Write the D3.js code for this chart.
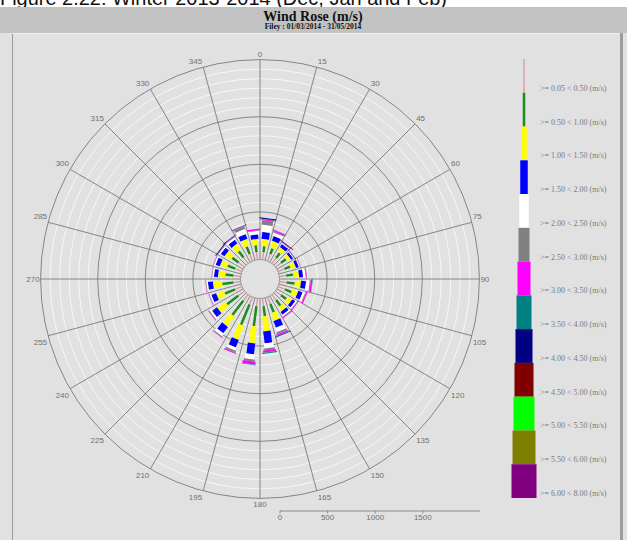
<!DOCTYPE html>
<html>
<head>
<meta charset="utf-8">
<script src="https://cdn.jsdelivr.net/npm/d3@7"></script>
<style>
  body { margin: 0; background: #ffffff; }
  svg { display: block; }
</style>
</head>
<body>
<svg id="chart" width="627" height="540"></svg>
<script>
// ---- data -----------------------------------------------------------------
// Direction bins (sector centres, degrees from north, 15-degree sectors)
const directions = [7.5, 22.5, 37.5, 52.5, 67.5, 82.5, 97.5, 112.5, 127.5, 142.5, 157.5, 172.5,
                    187.5, 202.5, 217.5, 232.5, 247.5, 262.5, 277.5, 292.5, 307.5, 322.5, 337.5, 352.5];

// Counts per speed class, one value per direction bin
const s005_050 = [79, 79, 74, 74, 74, 74, 79, 79, 74, 74, 79, 84, 84, 84, 84, 84, 79, 79, 79, 79, 79, 79, 79, 79];
const s050_100 = [63, 63, 63, 63, 63, 74, 84, 74, 68, 74, 95, 105, 210, 231, 189, 147, 116, 116, 84, 84, 84, 84, 84, 74];
const s100_150 = [74, 74, 53, 42, 53, 58, 63, 63, 53, 53, 84, 158, 179, 158, 126, 105, 84, 95, 74, 74, 74, 74, 74, 63];
const s150_200 = [74, 53, 37, 26, 32, 42, 53, 47, 37, 37, 74, 126, 116, 84, 84, 63, 53, 53, 42, 47, 47, 47, 53, 47];
const s200_250 = [74, 32, 11, 8, 11, 26, 37, 26, 16, 16, 47, 53, 53, 32, 32, 21, 16, 16, 16, 16, 16, 21, 53, 37];
const s250_300 = [47, 11, 5, 3, 5, 8, 11, 8, 5, 8, 21, 21, 21, 21, 11, 8, 5, 5, 5, 5, 5, 8, 26, 5];
const s300_350 = [11, 16, 5, 3, 3, 5, 16, 13, 8, 8, 16, 21, 32, 11, 5, 4, 3, 3, 3, 3, 5, 5, 5, 16];
const s350_400 = [5, 3, 0, 0, 0, 0, 3, 0, 0, 0, 5, 11, 5, 0, 0, 0, 0, 0, 0, 0, 0, 0, 3, 0];
const s400_450 = [11, 0, 5, 3, 0, 0, 0, 0, 0, 0, 5, 0, 0, 0, 0, 0, 0, 0, 0, 0, 8, 5, 5, 0];
const s450_500 = [0, 0, 0, 0, 0, 0, 0, 0, 0, 0, 0, 0, 0, 0, 0, 0, 0, 0, 0, 0, 0, 0, 0, 0];
const s500_550 = [0, 0, 0, 0, 0, 0, 0, 0, 0, 0, 0, 0, 0, 0, 0, 0, 0, 0, 0, 0, 0, 0, 0, 0];
const s550_600 = [0, 0, 0, 0, 0, 0, 0, 0, 0, 0, 0, 0, 0, 0, 0, 0, 0, 0, 0, 0, 0, 0, 0, 0];
const s600_800 = [0, 0, 0, 0, 0, 0, 0, 0, 0, 0, 0, 0, 0, 0, 0, 0, 0, 0, 0, 0, 0, 0, 0, 0];

const speedSeries = [s005_050, s050_100, s100_150, s150_200, s200_250, s250_300, s300_350,
                     s350_400, s400_450, s450_500, s500_550, s550_600, s600_800];

const speedLabels = [">= 0.05 < 0.50 (m/s)", ">= 0.50 < 1.00 (m/s)", ">= 1.00 < 1.50 (m/s)",
                     ">= 1.50 < 2.00 (m/s)", ">= 2.00 < 2.50 (m/s)", ">= 2.50 < 3.00 (m/s)",
                     ">= 3.00 < 3.50 (m/s)", ">= 3.50 < 4.00 (m/s)", ">= 4.00 < 4.50 (m/s)",
                     ">= 4.50 < 5.00 (m/s)", ">= 5.00 < 5.50 (m/s)", ">= 5.50 < 6.00 (m/s)",
                     ">= 6.00 < 8.00 (m/s)"];

const speedColors = ["#d9828f", "#1f8a1f", "#ffff00", "#0000ff", "#ffffff", "#808080", "#ff00ff",
                     "#008080", "#000080", "#800000", "#00ff00", "#808000", "#800080"];

// Bar thickness grows with the speed class
const speedWidths = [1, 2.5, 5.5, 7.5, 9.5, 11, 13, 15, 17, 19, 21, 23, 25];

const angleLabels = [0, 15, 30, 45, 60, 75, 90, 105, 120, 135, 150, 165,
                     180, 195, 210, 225, 240, 255, 270, 285, 300, 315, 330, 345];

const countMax = 2100;
const majorRings = [500, 1000, 1500];
const scaleTicks = [0, 500, 1000, 1500];

// ---- layout ---------------------------------------------------------------
const W = 627, H = 540;
const cx = 260, cy = 279;
const holeR = 19.5, outerR = 219.4;

const svg = d3.select("#chart");

// caption line above the chart (its lower edge runs under the header band)
svg.append("text")
  .attr("x", 0).attr("y", 4.5)
  .attr("font-family", "Liberation Sans, Arial, sans-serif")
  .attr("font-size", 21)
  .attr("fill", "#111")
  .attr("textLength", 447).attr("lengthAdjust", "spacingAndGlyphs")
  .text("Figure 2.22: Winter 2013-2014 (Dec, Jan and Feb)");

// header band
svg.append("rect").attr("x", 0).attr("y", 7).attr("width", W).attr("height", 26).attr("fill", "#c2c2c2");
svg.append("text")
  .attr("x", 313).attr("y", 20.5)
  .attr("text-anchor", "middle")
  .attr("font-family", "Liberation Serif, Times New Roman, serif")
  .attr("font-weight", "bold").attr("font-size", 14).attr("fill", "#111")
  .text("Wind Rose (m/s)");
svg.append("text")
  .attr("x", 313).attr("y", 29)
  .attr("text-anchor", "middle")
  .attr("font-family", "Liberation Serif, Times New Roman, serif")
  .attr("font-weight", "bold").attr("font-size", 7.5).attr("fill", "#111")
  .text("Filey : 01/03/2014 - 31/05/2014");

// panel
svg.append("rect").attr("x", 0).attr("y", 33).attr("width", W).attr("height", H - 33).attr("fill", "#e1e1e1");
svg.append("line").attr("x1", 12.5).attr("x2", 12.5).attr("y1", 33).attr("y2", H)
  .attr("stroke", "#9a9a9a").attr("stroke-width", 1);
svg.append("line").attr("x1", 12).attr("x2", 622).attr("y1", 33.5).attr("y2", 33.5)
  .attr("stroke", "#f2f2f2").attr("stroke-width", 1);
svg.append("rect").attr("x", 620).attr("y", 33).attr("width", 3).attr("height", H - 33).attr("fill", "#9c9c9c");

// ---- polar grid -----------------------------------------------------------
const r = d3.scaleLinear().domain([0, countMax]).range([holeR, outerR]);
const plot = svg.append("g").attr("transform", `translate(${cx},${cy})`);

const minorRings = r.ticks(21).filter(v => v > 0 && v < countMax && !majorRings.includes(v));
plot.selectAll("circle.minor").data(minorRings).join("circle")
  .attr("class", "minor").attr("r", d => r(d))
  .attr("fill", "none").attr("stroke", "#f7f7f7").attr("stroke-width", 1);

plot.selectAll("circle.major").data(majorRings.concat([countMax])).join("circle")
  .attr("class", "major").attr("r", d => r(d))
  .attr("fill", "none").attr("stroke", "#7a7a7a").attr("stroke-width", 0.9);

const rad = a => a * Math.PI / 180;
plot.selectAll("line.spoke").data(angleLabels).join("line")
  .attr("class", "spoke")
  .attr("x1", d => holeR * Math.sin(rad(d))).attr("y1", d => -holeR * Math.cos(rad(d)))
  .attr("x2", d => outerR * Math.sin(rad(d))).attr("y2", d => -outerR * Math.cos(rad(d)))
  .attr("stroke", "#7a7a7a").attr("stroke-width", 0.9);

plot.append("circle").attr("r", holeR).attr("fill", "#e1e1e1").attr("stroke", "#8a8a8a").attr("stroke-width", 0.8);

// direction labels round the outer ring
plot.selectAll("text.dir").data(angleLabels).join("text")
  .attr("class", "dir")
  .attr("x", d => {
    const x = outerR * Math.sin(rad(d));
    if (d === 0 || d === 180) return x;
    return d < 180 ? x + 1 : x - 1;
  })
  .attr("y", d => {
    const y = -outerR * Math.cos(rad(d));
    if (d === 90 || d === 270) return y + 3;
    return (d < 90 || d > 270) ? y - 3 : y + 9;
  })
  .attr("text-anchor", d => (d === 0 || d === 180) ? "middle" : (d < 180 ? "start" : "end"))
  .attr("font-family", "Liberation Sans, Arial, sans-serif")
  .attr("font-size", 8).attr("fill", "#707070")
  .text(d => d);

// ---- stacked bars ---------------------------------------------------------
directions.forEach((dir, i) => {
  let cum = 0;
  speedSeries.forEach((series, k) => {
    const v = series[i];
    if (v > 0) {
      const w = speedWidths[k];
      plot.append("rect")
        .attr("transform", `rotate(${dir})`)
        .attr("x", -w / 2)
        .attr("y", -r(cum + v))
        .attr("width", w)
        .attr("height", r(cum + v) - r(cum))
        .attr("fill", speedColors[k]);
    }
    cum += v;
  });
});

// ---- count scale under the rose -------------------------------------------
const sx = d3.scaleLinear().domain([0, countMax]).range([cx + holeR, cx + outerR]);
const axisG = svg.append("g").attr("transform", "translate(0,510.5)")
  .call(d3.axisBottom(sx).tickValues(scaleTicks).tickFormat(d3.format("d"))
    .tickSize(3).tickSizeOuter(0).tickPadding(1));
axisG.select(".domain").attr("stroke", "#8a8a8a");
axisG.selectAll(".tick line").attr("stroke", "#8a8a8a");
axisG.selectAll(".tick text")
  .attr("font-family", "Liberation Sans, Arial, sans-serif")
  .attr("font-size", 8).attr("fill", "#707070");

// ---- legend ---------------------------------------------------------------
const band = d3.scaleBand().domain(speedLabels).range([59, 498]);
const legendX = 524;
svg.selectAll("rect.key").data(speedLabels).join("rect")
  .attr("class", "key")
  .attr("x", (d, k) => legendX - speedWidths[k] / 2)
  .attr("y", d => band(d))
  .attr("width", (d, k) => speedWidths[k])
  .attr("height", band.bandwidth())
  .attr("fill", (d, k) => speedColors[k]);
svg.selectAll("text.key").data(speedLabels).join("text")
  .attr("class", "key")
  .attr("x", 540)
  .attr("y", d => band(d) + band.bandwidth() - 2)
  .attr("font-family", "Liberation Serif, Times New Roman, serif")
  .attr("font-size", 8).attr("fill", "#7a7a7a")
  .text(d => d);
</script>
</body>
</html>
